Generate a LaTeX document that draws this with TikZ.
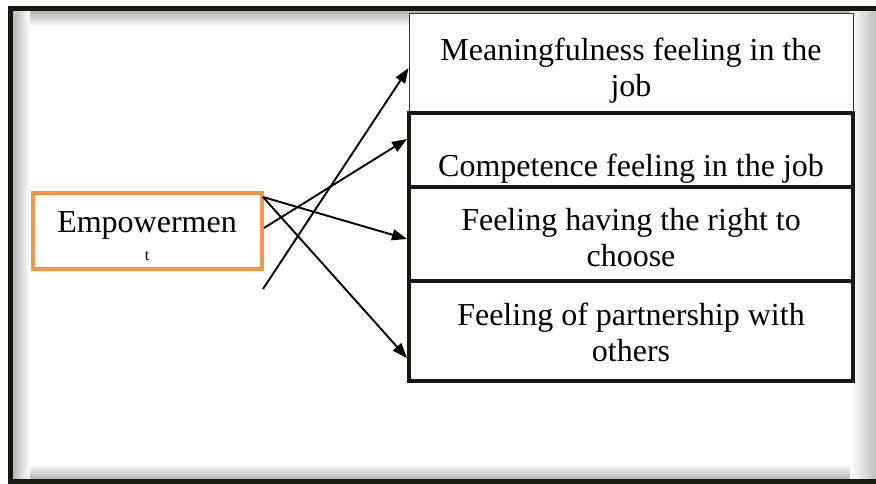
\documentclass[tikz,border=0pt]{standalone}
\usepackage{fontspec}
\setmainfont{Liberation Serif}
\usetikzlibrary{arrows.meta}
\definecolor{frame}{HTML}{141A10}
\definecolor{orng}{HTML}{F79646}
\begin{document}
\begin{tikzpicture}[x=1pt,y=-1pt,
  thickbox/.style={draw=frame,line width=4pt,fill=white,minimum width=444pt,inner sep=0pt},
  thinbox/.style={draw=black!80,line width=0.8pt,fill=white,minimum width=444pt,inner sep=0pt},
  txt/.style={font=\fontsize{32}{36}\selectfont,align=center,inner sep=0pt},
  arr/.style={line width=1.9pt,-{Triangle[length=15pt,width=11pt]}}]
\useasboundingbox (0,0) rectangle (876,484);
\clip (0,0) rectangle (876,484);
% inner shadows of the frame
\shade[top color=black!30,bottom color=white] (30,11) rectangle (850,27);
\shade[top color=white,bottom color=black!30] (30,464) rectangle (850,479);
\shade[left color=black!30,right color=white] (12,11) rectangle (30,479);
\shade[left color=white,right color=black!25] (850,11) rectangle (876,479);
% outer frame
\draw[frame,line width=5pt] (10,494) -- (10,9) -- (900,9);
\draw[frame,line width=5pt] (10,481) -- (900,481);
% boxes on the right
\node[thinbox,minimum height=99pt] (mean) at (631,62.5) {};
\node[thickbox,minimum height=74pt] (comp) at (631,150) {};
\node[thickbox,minimum height=94pt] (right) at (631,234) {};
\node[thickbox,minimum height=100pt] (part) at (631,331) {};
\node[txt] (meant) at (631,71) {Meaningfulness feeling in the\\job};
\node[txt,anchor=base] (compt) at (631,177) {Competence feeling in the job};
\node[txt] (rightt) at (631,237.5) {Feeling having the right to\\choose};
\node[txt] (partt) at (631,332.5) {Feeling of partnership with\\others};
% empowerment box
\node[draw=orng,line width=4pt,fill=white,minimum width=229pt,minimum height=76pt,inner sep=0pt] (emp) at (147.5,231) {};
\node[txt,anchor=base] (empt) at (147,233) {Empowermen};
\node[font=\fontsize{16}{16}\selectfont,inner sep=0pt] (empt2) at (147,256) {t};
% arrow start points
\coordinate (s1) at (263,289);
\coordinate (s2) at (emp.east |- 0,228);
\coordinate (s3) at (263,197);
\draw[arr] (s1) -- (mean.west |- 0,68);
\draw[arr] (s2) -- (comp.west |- 0,139);
\draw[arr] (s3) -- (right.west |- 0,239);
\draw[arr] (s3) -- (part.west |- 0,358);
\end{tikzpicture}
\end{document}
